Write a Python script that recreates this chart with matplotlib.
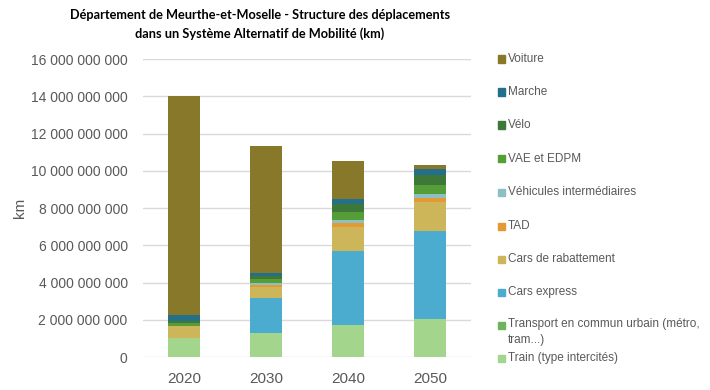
import matplotlib.pyplot as plt
import numpy as np

years = ['2020', '2030', '2040', '2050']

# km, bottom to top of the stack
train = [1.04e9, 1.29e9, 1.72e9, 2.04e9]
tc_urbain = [0.0, 0.0, 0.0, 0.0]
cars_express = [0.0, 1.88e9, 3.97e9, 4.72e9]
cars_rabattement = [0.62e9, 0.59e9, 1.30e9, 1.56e9]
tad = [0.0, 0.10e9, 0.20e9, 0.21e9]
vehicules_inter = [0.0, 0.09e9, 0.16e9, 0.23e9]
vae_edpm = [0.15e9, 0.22e9, 0.43e9, 0.47e9]
velo = [0.11e9, 0.18e9, 0.43e9, 0.53e9]
marche = [0.32e9, 0.17e9, 0.27e9, 0.33e9]
voiture = [11.76e9, 6.80e9, 2.04e9, 0.21e9]

series = [
    ('Train (type intercités)', train, '#A3D68C'),
    ('Transport en commun urbain (métro,\ntram...)', tc_urbain, '#6CB55B'),
    ('Cars express', cars_express, '#4BACD0'),
    ('Cars de rabattement', cars_rabattement, '#CDB65A'),
    ('TAD', tad, '#E39A35'),
    ('Véhicules intermédiaires', vehicules_inter, '#8CC0C2'),
    ('VAE et EDPM', vae_edpm, '#559E37'),
    ('Vélo', velo, '#3E7838'),
    ('Marche', marche, '#24708A'),
    ('Voiture', voiture, '#88782A'),
]

plt.rcParams['font.family'] = ['Liberation Sans', 'DejaVu Sans']

fig = plt.figure(figsize=(7.1, 3.9), dpi=100)
ax = fig.add_axes([0.2014, 0.0846, 0.4620, 0.7641])

x = np.arange(len(years))
bottom = np.zeros(len(years))
for name, vals, col in series:
    ax.bar(x, vals, width=0.4, bottom=bottom, color=col, zorder=3)
    bottom += np.array(vals)

ticks = np.arange(0, 16e9 + 1, 2e9)
ax.set_xlim(-0.5, 3.5)
ax.set_ylim(0, 16e9)
ax.set_yticks(ticks)
ax.set_yticklabels([f'{int(v):,}'.replace(',', ' ') for v in ticks],
                   fontsize=10, color='#595959')
ax.set_xticks(x)
ax.set_xticklabels(years, fontsize=11, color='#595959')
ax.tick_params(length=0)
ax.tick_params(axis='x', pad=11)
ax.tick_params(axis='y', pad=11)
ax.grid(axis='y', color='#D9D9D9', linewidth=1, zorder=0)
for s in ax.spines.values():
    s.set_visible(False)
ax.set_ylabel('km', fontsize=11, color='#595959')
ax.yaxis.set_label_coords(-0.355, 0.5)

title_font = ['Lato', 'DejaVu Sans']
fig.text(0.366, 0.961, 'Département de Meurthe-et-Moselle - Structure des déplacements',
         ha='center', va='center', fontsize=9.2, fontweight='bold', family=title_font)
fig.text(0.366, 0.914, 'dans un Système Alternatif de Mobilité (km)',
         ha='center', va='center', fontsize=9.2, fontweight='bold', family=title_font)

# legend, top to bottom
ys = [59, 92, 125, 159, 192, 226, 259, 292, 325, 358]
for (name, vals, col), yy in zip(reversed(series), ys):
    fy = 1 - yy / 390
    fig.patches.append(plt.Rectangle((498 / 710, fy - 3.5 / 390), 7 / 710, 7 / 390,
                                     transform=fig.transFigure, color=col))
    if '\n' in name:
        fig.text(508 / 710, fy + 7 / 390, name, ha='left', va='top',
                 fontsize=8.5, color='#595959', linespacing=1.5)
    else:
        fig.text(508 / 710, fy, name, ha='left', va='center',
                 fontsize=8.5, color='#595959')

fig.savefig('out.png', dpi=100)
